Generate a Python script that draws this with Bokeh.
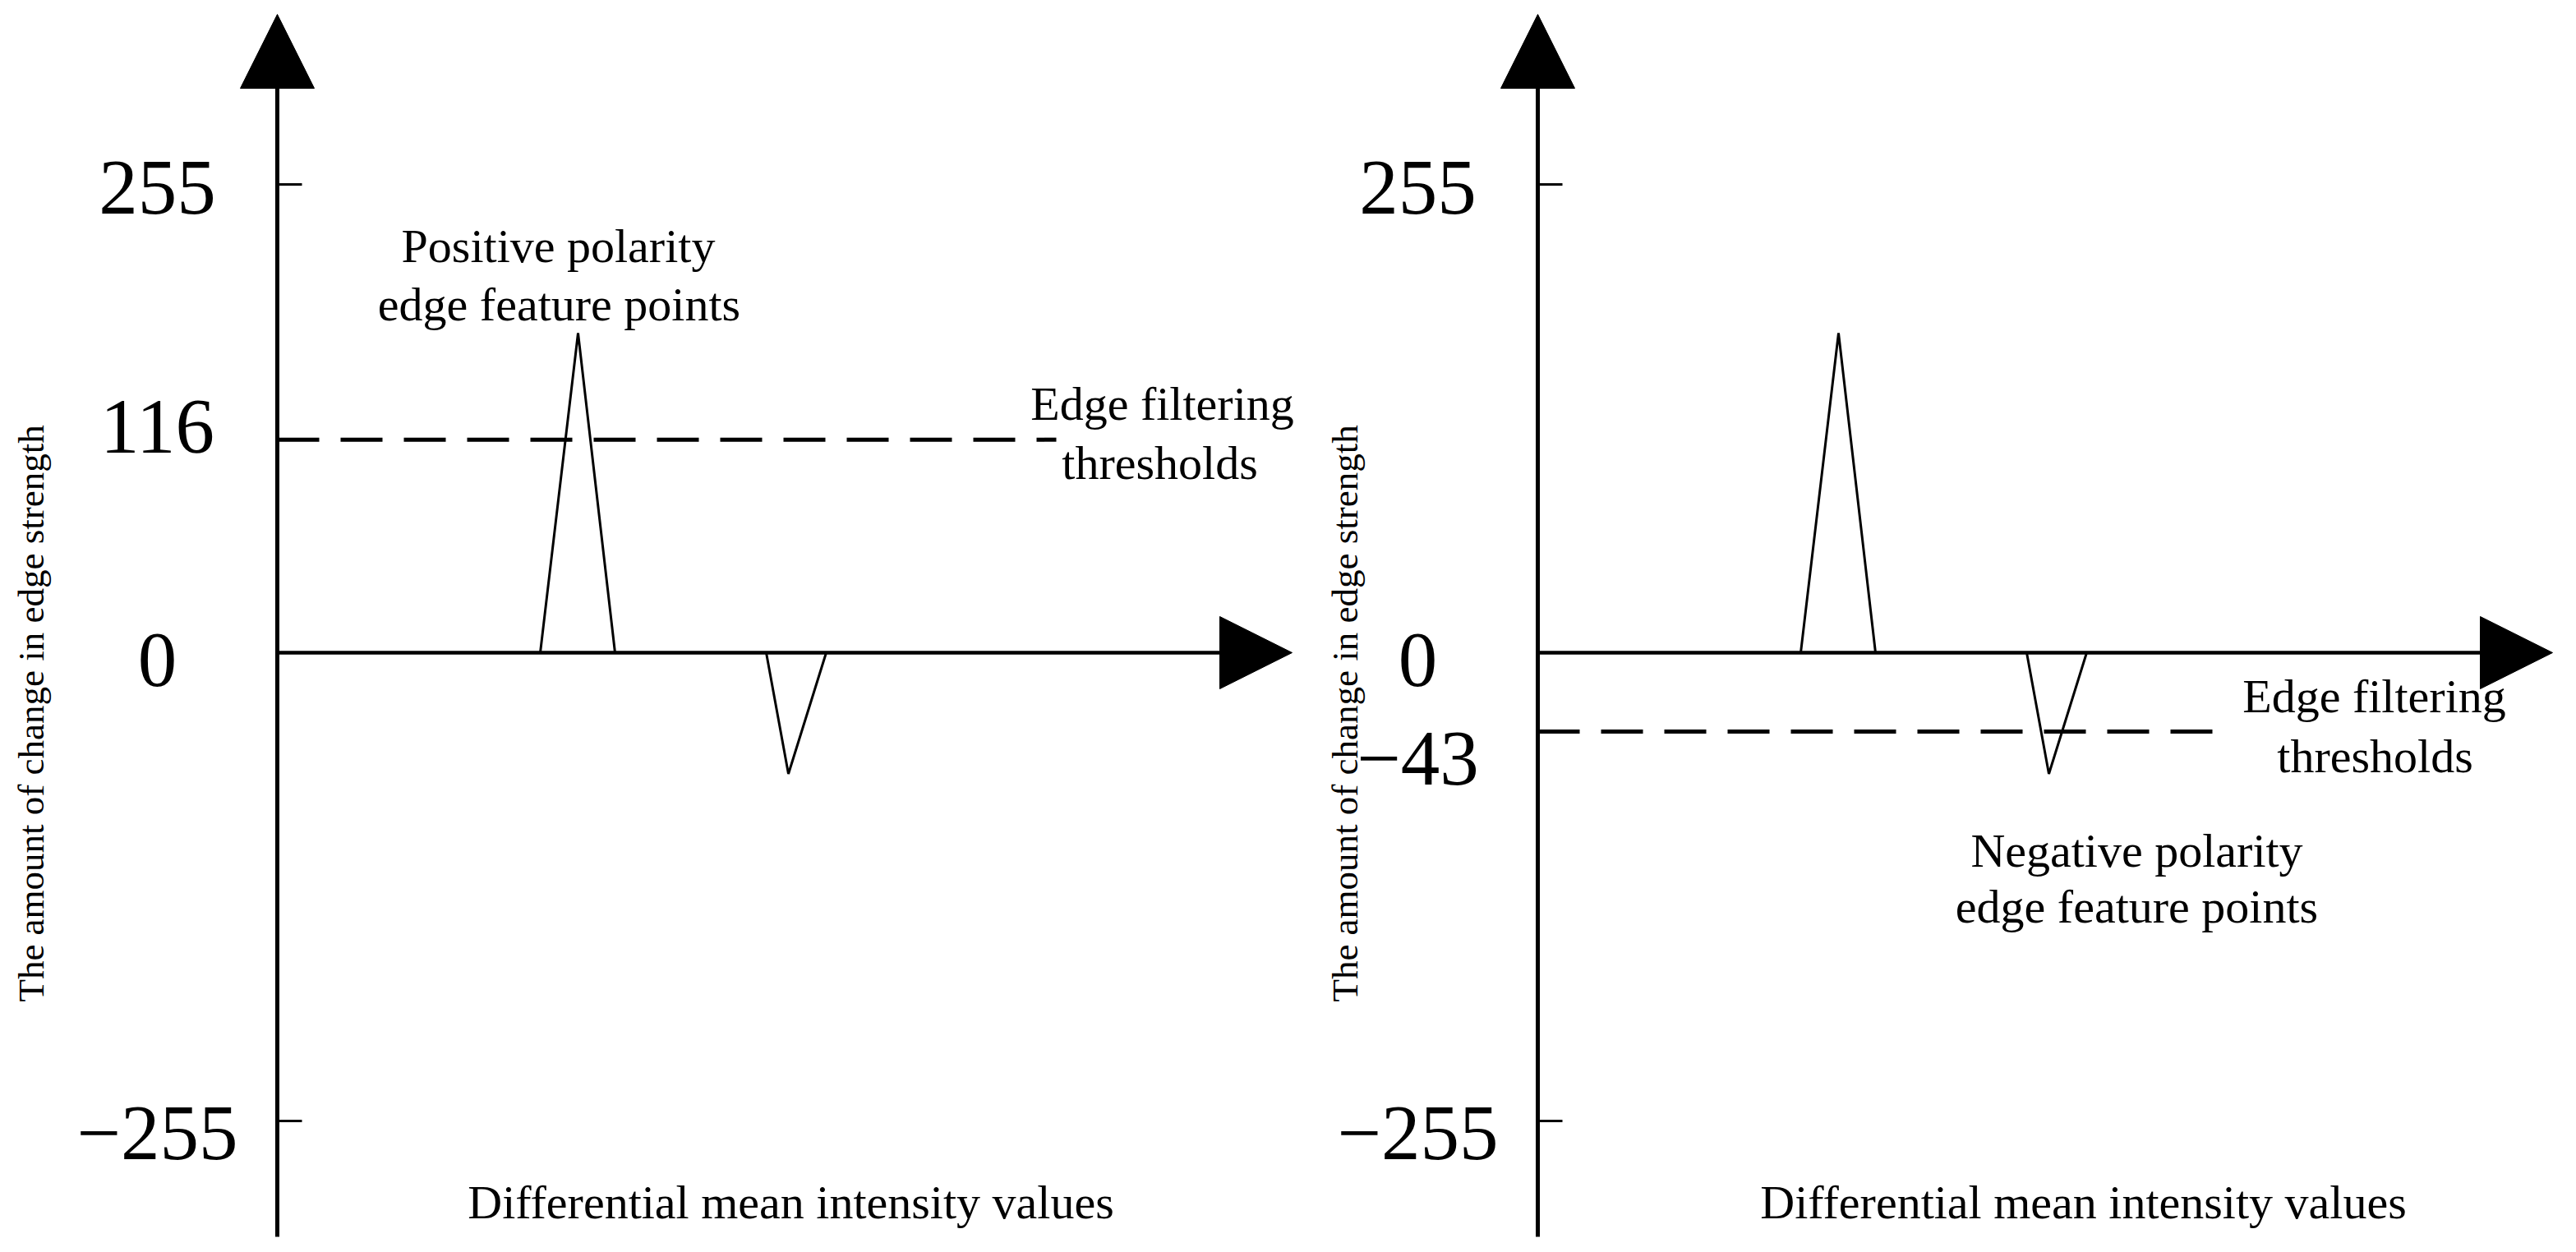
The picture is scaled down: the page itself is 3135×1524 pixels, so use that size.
import numpy as np
from bokeh.plotting import figure
from bokeh.layouts import row
from bokeh.models import Range1d, Arrow, NormalHead, ColumnDataSource
from bokeh.core.properties import value
from bokeh.embed import file_html
from bokeh.resources import INLINE

# ---------------- data ----------------
# y values: amount of change in edge strength
Y_TICKS_LEFT = [255, 116, 0, -255]
Y_TICK_LABELS_LEFT = ["255", "116", "0", "\u2212255"]
Y_TICKS_RIGHT = [255, 0, -43, -255]
Y_TICK_LABELS_RIGHT = ["255", "0", "\u221243", "\u2212255"]
MINOR_TICKS = [255, -255]

THRESHOLD_LEFT = 116      # positive edge filtering threshold
THRESHOLD_RIGHT = -43     # negative edge filtering threshold

# differential mean intensity position (arbitrary units) / edge-strength change
PEAK_X = [320, 366, 411]
PEAK_Y = [0, 174, 0]
DIP_X = [595, 622, 668]
DIP_Y = [0, -66, 0]

Y_LABEL = "The amount of change in edge strength"
X_LABEL = "Differential mean intensity values"

# ---------------- layout / style ----------------
SERIF = value("Liberation Serif")
Y_RANGE = (-323.0, 355.2)
Y_AXIS_TIP = 347.6
Y_AXIS_BOTTOM = -318.1
X_AXIS_TIP = 1235
FIG_H = 1516


def make_panel(width, x_start, ticks, tick_labels, tick_dy, thr, thr_len,
               notes, xlabel_x, ylabel_x):
    p = figure(width=width, height=FIG_H,
               x_range=Range1d(x_start, x_start + width),
               y_range=Range1d(*Y_RANGE),
               x_axis_location=None, y_axis_location=None,
               output_backend="svg", toolbar_location=None,
               min_border=0, outline_line_color=None,
               background_fill_color="white", border_fill_color="white")
    p.grid.visible = False

    # axes with arrow heads
    p.add_layout(Arrow(end=NormalHead(size=90, fill_color="black",
                                      line_color="black", line_width=1),
                       x_start=0, y_start=Y_AXIS_BOTTOM, x_end=0, y_end=Y_AXIS_TIP,
                       line_width=5, line_color="black"))
    p.add_layout(Arrow(end=NormalHead(size=88, fill_color="black",
                                      line_color="black", line_width=1),
                       x_start=0, y_start=0, x_end=X_AXIS_TIP, y_end=0,
                       line_width=4.5, line_color="black"))

    # short tick marks at +/-255
    p.segment(x0=[0] * len(MINOR_TICKS), y0=MINOR_TICKS,
              x1=[30] * len(MINOR_TICKS), y1=MINOR_TICKS,
              line_width=3, line_color="black")

    # threshold (dashed)
    p.segment(x0=[0], y0=[thr], x1=[thr_len], y1=[thr],
              line_width=5, line_color="black", line_dash="51 26")

    # signal
    p.line(PEAK_X, PEAK_Y, line_width=3, line_color="black")
    p.line(DIP_X, DIP_Y, line_width=3, line_color="black")

    # tick labels
    src = ColumnDataSource(dict(x=[-146] * len(ticks), y=ticks,
                                text=tick_labels, dy=tick_dy))
    p.text(x="x", y="y", text="text", y_offset="dy", source=src,
           text_align="center", text_baseline="alphabetic",
           text_font=SERIF, text_font_size="95px", text_color="black")

    # annotations
    nsrc = ColumnDataSource(dict(x=[n[1] for n in notes], y=[n[2] for n in notes],
                                 text=[n[0] for n in notes]))
    p.text(x="x", y="y", text="text", source=nsrc, y_offset=-21,
           text_align="center", text_baseline="alphabetic",
           text_font=SERIF, text_font_size="58px", text_color="black")

    # axis titles
    p.text(x=[xlabel_x], y=[-306.0], text=[X_LABEL], y_offset=-15,
           text_align="center", text_baseline="alphabetic",
           text_font=SERIF, text_font_size="58px", text_color="black")
    p.text(x=[ylabel_x], y=[-33.1], text=[Y_LABEL], angle=np.pi / 2,
           text_align="center", text_baseline="alphabetic",
           text_font=SERIF, text_font_size="45px", text_color="black")
    return p


left = make_panel(
    1588, -337, Y_TICKS_LEFT, Y_TICK_LABELS_LEFT, [4, -16, 9, 15],
    THRESHOLD_LEFT, 948,
    [("Positive polarity", 342, 212.0),
     ("edge feature points", 343, 180.2),
     ("Edge filtering", 1077, 126.0),
     ("thresholds", 1074, 94.0)],
    625, -300)

right = make_panel(
    1539, -283, Y_TICKS_RIGHT, Y_TICK_LABELS_RIGHT, [4, 9, 33, 15],
    THRESHOLD_RIGHT, 821,
    [("Edge filtering", 1018, -33.1),
     ("thresholds", 1019, -65.8),
     ("Negative polarity", 729, -117.2),
     ("edge feature points", 729, -147.7)],
    664, -235)

layout = row(left, right)
open("out.html", "w").write(file_html(layout, INLINE))
